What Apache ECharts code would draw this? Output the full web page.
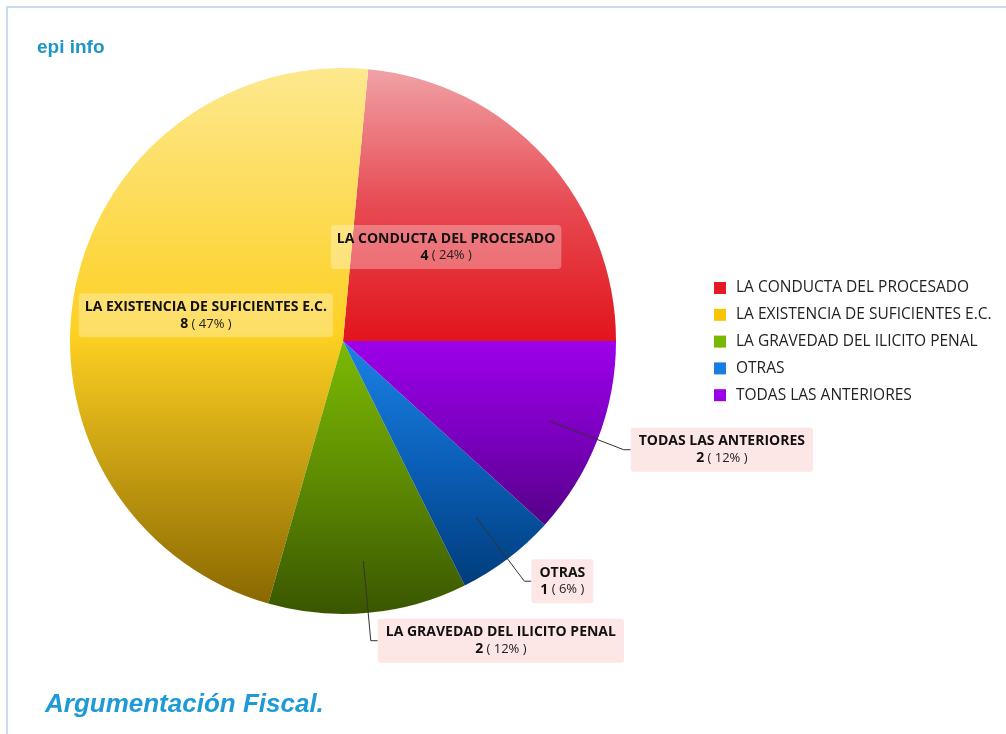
<!DOCTYPE html>
<html>
<head>
<meta charset="utf-8">
<script src="https://cdn.jsdelivr.net/npm/echarts@6/dist/echarts.min.js"></script>
<style>
  html, body { margin: 0; padding: 0; background: #fff; }
  #wrap { position: relative; width: 1006px; height: 734px; }
  #chart { position: absolute; left: 0; top: 0; width: 1006px; height: 734px; }
  #frame { position: absolute; left: 6px; top: 6px; width: 1000px; height: 728px;
           border-top: 2px solid #c6dcf2; border-left: 2px solid #c6dcf2; pointer-events: none; box-sizing: border-box; }
</style>
</head>
<body>
<div id="wrap"><div id="chart"></div><div id="frame"></div></div>
<script>
// ---- data ----
const categories = [
  'LA CONDUCTA DEL PROCESADO',
  'LA EXISTENCIA DE SUFICIENTES E.C.',
  'LA GRAVEDAD DEL ILICITO PENAL',
  'OTRAS',
  'TODAS LAS ANTERIORES'
];
const values = [4, 8, 2, 1, 2];
const titleText = 'epi info';
const subtitleText = 'Argumentación Fiscal.';
// ---- style ----
const legendColors = ['#e31c24', '#f7c600', '#78b800', '#1a7de0', '#9b00e6'];
const topColors    = ['#f0a2a6', '#fde88e', '#7cba04', '#1b82e6', '#9d00ea'];
const midColors    = ['#e74a52', '#fdd022', '#5e8c02', '#0b5fb8', '#7c00c0'];
const bottomColors = ['#e2141c', '#8a6800', '#3a5600', '#003d7c', '#560088'];
const insideLabel  = [true, true, false, false, false];

const total = values.reduce((a, b) => a + b, 0);
const FONT = '"Open Sans", "Noto Sans", sans-serif';

function grad(i) {
  return new echarts.graphic.LinearGradient(0, 0, 0, 1, [
    { offset: 0, color: topColors[i] },
    { offset: 0.5, color: midColors[i] },
    { offset: 1, color: bottomColors[i] }
  ]);
}
function labelText(p) {
  const pct = Math.round(p.value / total * 100);
  return '{n|' + p.name + '}\n{v|' + p.value + '}{p| ( ' + pct + '% )}';
}
const rich = {
  n: { fontFamily: FONT, fontSize: 14, fontWeight: 'bold', color: '#111', lineHeight: 17, letterSpacing: -0.5, align: 'center' },
  v: { fontFamily: FONT, fontSize: 14, fontWeight: 'bold', color: '#111', lineHeight: 17, align: 'center' },
  p: { fontFamily: FONT, fontSize: 13, color: '#222', lineHeight: 17, letterSpacing: -0.3, align: 'center' }
};

const mainData = categories.map((name, i) => ({
  name: name,
  value: values[i],
  itemStyle: { color: grad(i) },
  label: insideLabel[i] ? {
    show: true, position: 'inside', formatter: labelText, rich: rich,
    backgroundColor: 'rgba(255,255,255,0.3)', borderRadius: 4, padding: [5, 6], align: 'center'
  } : { show: false }
}));

const outerData = categories.map((name, i) => ({
  name: name,
  value: values[i],
  itemStyle: { color: 'rgba(0,0,0,0)' },
  label: insideLabel[i] ? { show: false } : {
    show: true, position: 'outside', formatter: labelText, rich: rich,
    backgroundColor: '#fce6e6', borderRadius: 3, padding: [5, 8], align: 'center'
  },
  labelLine: { show: !insideLabel[i] }
}));

const chart = echarts.init(document.getElementById('chart'), null, { renderer: 'canvas' });
chart.setOption({
  animation: false,
  backgroundColor: '#fff',
  title: [
    { text: titleText, left: 37, top: 38, padding: 0, textStyle: { fontFamily: 'Arial, "Liberation Sans", sans-serif', fontSize: 19, fontWeight: 'bold', color: '#1f95c6' } },
    { text: subtitleText, left: 45, top: 692, padding: 0, textStyle: { fontFamily: 'Arial, "Liberation Sans", sans-serif', fontSize: 26, fontWeight: 'bold', fontStyle: 'italic', color: '#1e9ad6' } }
  ],
  legend: {
    orient: 'vertical', left: 714, top: 280, padding: 0,
    icon: 'rect', itemWidth: 12, itemHeight: 12, itemGap: 10.8,
    textStyle: { fontFamily: FONT, fontSize: 15.5, color: '#222', lineHeight: 16, padding: [0, 0, 0, 5] },
    data: categories.map((c, i) => ({ name: c, itemStyle: { color: legendColors[i] } }))
  },
  series: [
    {
      type: 'pie', name: 'main', center: [343, 341], radius: 273, z: 2,
      startAngle: 0, clockwise: false, silent: true,
      avoidLabelOverlap: false,
      data: mainData,
      labelLine: { show: false }
    },
    {
      type: 'pie', name: 'labels', center: [343, 341], radius: 221, z: 5,
      startAngle: 0, clockwise: false, silent: true,
      avoidLabelOverlap: false,
      label: { distanceToLabelLine: 0 },
      labelLine: { length: 80, length2: 7, lineStyle: { color: '#333', width: 1 } },
      data: outerData
    }
  ]
});
</script>
</body>
</html>
